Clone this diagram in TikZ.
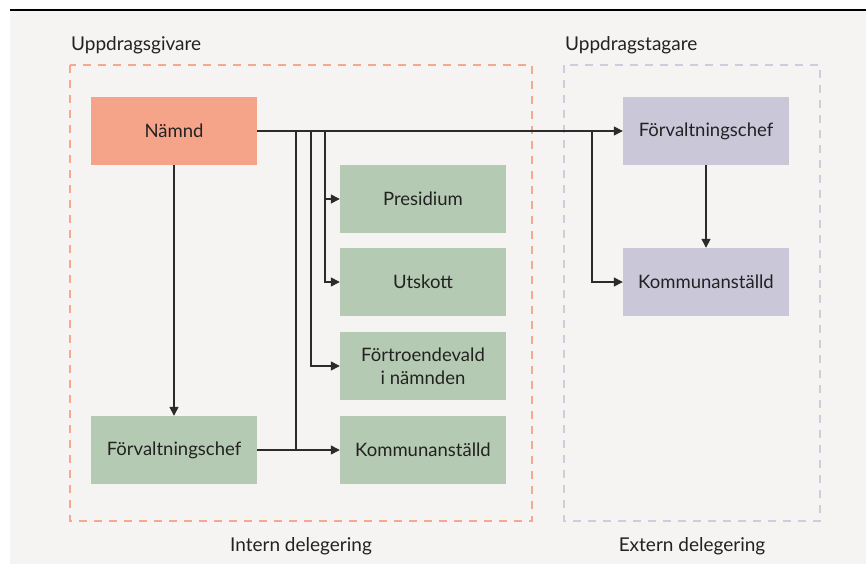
\documentclass[tikz,border=0pt]{standalone}
\usepackage{fontspec}
\setmainfont{Lato}
\usetikzlibrary{arrows.meta}
\definecolor{bgc}{HTML}{F5F4F2}
\definecolor{salm}{HTML}{F5A48A}
\definecolor{grn}{HTML}{B5CAB2}
\definecolor{purp}{HTML}{CAC7D9}
\definecolor{orgdash}{HTML}{F6A88E}
\definecolor{purdash}{HTML}{CFCCDE}
\definecolor{linec}{HTML}{2B2B2B}
\definecolor{txt}{HTML}{222222}
\begin{document}
\begin{tikzpicture}[x=1pt,y=-1pt,
  box/.style={minimum width=166pt,minimum height=68pt,inner sep=0pt,align=center,
    text=txt,font=\fontsize{18.5}{23}\selectfont},
  lbl/.style={text=txt,font=\fontsize{19}{22}\selectfont,inner sep=0pt},
  conn/.style={draw=linec,line width=1.4pt,-{Triangle[length=9pt,width=9pt]}},
  plain/.style={draw=linec,line width=1.4pt},
  dbox/.style={line width=1.2pt,dash pattern=on 8pt off 7pt}]
\useasboundingbox (0,0) rectangle (866,564);
\fill[white] (0,0) rectangle (866,564);
\fill[bgc] (10,10) rectangle (866,564);
\draw[black,line width=1.3pt] (10,10) -- (866,10);

\draw[dbox,orgdash] (70,65) rectangle (532,521);
\draw[dbox,purdash] (564,65) rectangle (820,521);

\node[lbl,anchor=west] (ug) at (71,45) {Uppdragsgivare};
\node[lbl,anchor=west] (ut) at (565,45) {Uppdragstagare};
\node[lbl] (intern) at (301,546) {Intern delegering};
\node[lbl] (extern) at (692,546) {Extern delegering};

\node[box,fill=salm] (namnd) at (174,131) {Nämnd};
\node[box,fill=grn] (fcL) at (174,450) {Förvaltningschef};
\node[box,fill=grn] (pres) at (423,199) {Presidium};
\node[box,fill=grn] (utsk) at (423,282) {Utskott};
\node[box,fill=grn] (fort) at (423,366) {Förtroendevald\\i nämnden};
\node[box,fill=grn] (kaL) at (423,450) {Kommunanställd};
\node[box,fill=purp] (fcR) at (706,131) {Förvaltningschef};
\node[box,fill=purp] (kaR) at (706,282) {Kommunanställd};

\coordinate (b1) at (296,131);
\coordinate (b2) at (311,131);
\coordinate (b3) at (325,131);
\coordinate (b4) at (592,131);

\draw[conn] (namnd.east) -- (fcR.west);
\draw[conn] (b3) |- (pres.west);
\draw[conn] (b3) |- (utsk.west);
\draw[conn] (b2) |- (fort.west);
\draw[plain] (b1) -- (b1 |- kaL.west);
\draw[conn] (fcL.east) -- (kaL.west);
\draw[conn] (b4) |- (kaR.west);
\draw[conn] (namnd.south) -- (fcL.north);
\draw[conn] (fcR.south) -- (kaR.north);
\end{tikzpicture}
\end{document}
